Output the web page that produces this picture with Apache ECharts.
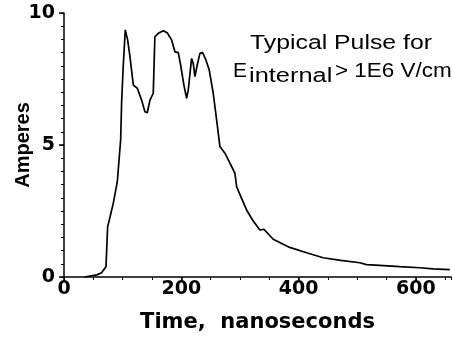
<!DOCTYPE html>
<html><head><meta charset="utf-8">
<script src="https://cdn.jsdelivr.net/npm/echarts@6/dist/echarts.min.js"></script>
<style>html,body{margin:0;padding:0;background:#fff}#c{width:452px;height:339px}</style>
</head><body><div id="c"></div>
<script>
const timeNs = [35,56,64,71.6,74.4,77.3,84,90.9,96.6,98.3,101,104.5,108.5,112.5,118.2,125,132.4,138,142,146.6,152.2,155,160.8,169.3,176,183.5,189.2,194.9,198.9,204.5,209.1,211.9,217.6,220.4,223.3,227.2,231.8,236.4,242,247.7,254.5,260.3,265.9,274.4,283,291.5,294.4,302.9,311.4,321.6,334,340.9,356.8,385,413.7,442,472,504.5,516,545,572.7,606.8,629.5,658];
const amperes = [0,0.08,0.16,0.39,1.9,2.16,2.79,3.61,5.19,6.64,7.97,9.36,8.98,8.35,7.27,7.15,6.7,6.26,6.22,6.7,6.96,9.1,9.23,9.33,9.25,8.98,8.53,8.5,8.03,7.27,6.77,7.08,8.28,8.09,7.59,8.03,8.47,8.5,8.22,7.84,6.96,5.95,4.94,4.69,4.31,3.93,3.42,2.98,2.54,2.16,1.78,1.81,1.43,1.12,0.92,0.73,0.63,0.54,0.47,0.43,0.39,0.35,0.31,0.28];
const xTicks = [0,200,400,600];
const xMinorStep = 50;
const yTicks = [0,5,10];
const yMinorStep = 0.5;
const xTitle = 'Time,  nanoseconds';
const yTitle = 'Amperes';
const note1 = 'Typical Pulse for';
const noteE = 'E';
const noteSub = 'internal';
const noteRest = '> 1E6 V/cm';

const SANS = '"Liberation Sans", Arial, sans-serif';
const WIDE = '"DejaVu Sans", sans-serif';
const X_MAX = 660;
const chart = echarts.init(document.getElementById('c'));
const lineBlack = {color: '#000', width: 1.5};
function txt(x, y, s, size, sx) {
  return {type: 'text', x: x, y: y, scaleX: sx, scaleY: 1,
    style: {text: s, fontFamily: SANS, fontSize: size, fill: '#000', align: 'left', verticalAlign: 'top'}};
}
chart.setOption({
  animation: false,
  backgroundColor: '#fff',
  grid: {left: 64, right: 1, top: 13, bottom: 62, containLabel: false, outerBoundsMode: 'none'},
  xAxis: [{
    type: 'value', min: xTicks[0], max: X_MAX, interval: xTicks[1]-xTicks[0],
    name: xTitle, nameLocation: 'middle', nameGap: 35, nameMoveOverlap: false,
    nameTextStyle: {fontFamily: WIDE, fontWeight: 'bold', fontSize: 21, color: '#000'},
    axisLine: {show: true, lineStyle: lineBlack},
    axisTick: {show: true, length: 5, lineStyle: lineBlack},
    splitLine: {show: false},
    axisLabel: {fontFamily: WIDE, fontWeight: 'bold', fontSize: 19, color: '#000', margin: 3, showMaxLabel: false,
      formatter: v => xTicks.includes(v) ? String(v) : ''}
  }, {
    type: 'value', min: xTicks[0], max: X_MAX, interval: xMinorStep, position: 'bottom',
    axisLine: {show: false}, splitLine: {show: false}, axisLabel: {show: false},
    axisTick: {show: true, length: 3, lineStyle: {color: '#000', width: 1}}
  }],
  yAxis: [{
    type: 'value', min: yTicks[0], max: yTicks[2], interval: yTicks[1]-yTicks[0],
    name: yTitle, nameLocation: 'middle', nameGap: 31, nameMoveOverlap: false,
    nameTextStyle: {fontFamily: SANS, fontWeight: 'bold', fontSize: 20, color: '#000'},
    axisLine: {show: true, lineStyle: lineBlack},
    axisTick: {show: true, length: 5, lineStyle: lineBlack},
    splitLine: {show: false},
    axisLabel: {fontFamily: WIDE, fontWeight: 'bold', fontSize: 19, color: '#000', margin: 9}
  }, {
    type: 'value', min: yTicks[0], max: yTicks[2], interval: yMinorStep, position: 'left',
    axisLine: {show: false}, splitLine: {show: false}, axisLabel: {show: false},
    axisTick: {show: true, length: 3, lineStyle: {color: '#000', width: 1}}
  }],
  series: [{
    type: 'line', data: timeNs.map((t,i)=>[t, amperes[i]]),
    showSymbol: false, lineStyle: {color: '#000', width: 1.7}, z: 3
  }],
  graphic: [
    txt(250, 33, note1, 20, 1.24),
    txt(233, 61, noteE, 21, 1.0),
    txt(249, 66, noteSub, 20, 1.27),
    txt(335, 61, noteRest, 21, 1.07)
  ]
});
</script></body></html>
